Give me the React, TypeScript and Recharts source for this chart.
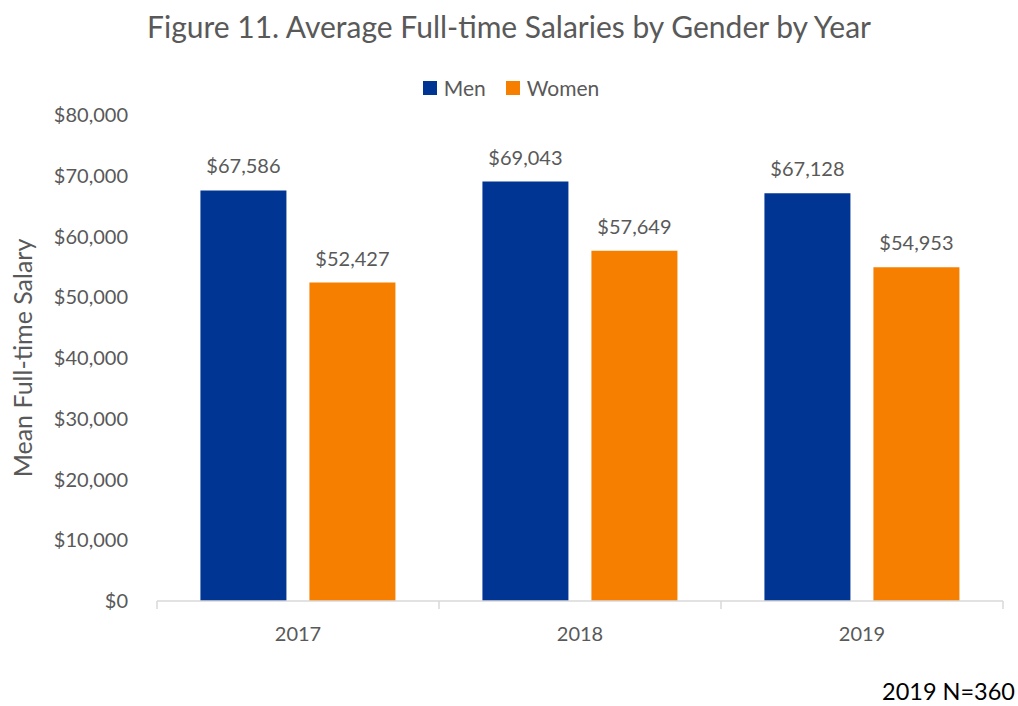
import React from "react";
import { BarChart, Bar, XAxis, YAxis, LabelList } from "recharts";

const years = ["2017", "2018", "2019"];
const men = [67586, 69043, 67128];
const women = [52427, 57649, 54953];
const yTicks = [0, 10000, 20000, 30000, 40000, 50000, 60000, 70000, 80000];

const data = years.map((year, i) => ({ year, men: men[i], women: women[i] }));

const W = 1018;
const H = 706;
const PLOT_LEFT = 157;
const PLOT_RIGHT = 15;
const STEP = (W - PLOT_LEFT - PLOT_RIGHT) / years.length;

const FONT = "Lato, 'Noto Sans', sans-serif";
const TEXT = "#595959";
const AXIS = "#d9d9d9";

const money = (v: number) => "$" + v.toLocaleString("en-US");

function YearTick(props: any) {
  const { x, y, payload, index } = props;
  const left = x - STEP / 2;
  return (
    <g>
      <line x1={left} y1={y - 8} x2={left} y2={y} stroke={AXIS} strokeWidth={1.5} />
      {index === years.length - 1 && (
        <line x1={left + STEP} y1={y - 8} x2={left + STEP} y2={y} stroke={AXIS} strokeWidth={1.5} />
      )}
      <text x={x} y={y + 32} textAnchor="middle" fill={TEXT} fontSize={20} fontFamily={FONT}>
        {payload.value}
      </text>
    </g>
  );
}

export default function App() {
  return (
    <div style={{ position: "absolute", left: 0, top: 0, width: W, height: H, background: "#fff", fontFamily: FONT }}>
      <div style={{ position: "absolute", left: 0, width: W, top: 8, textAlign: "center", fontSize: 30, color: TEXT }}>
        Figure 11. Average Full-time Salaries by Gender by Year
      </div>
      <div style={{ position: "absolute", left: 0, width: W, top: 75, display: "flex", justifyContent: "center", fontSize: 21, color: TEXT, paddingLeft: 2 }}>
        <span style={{ display: "flex", alignItems: "center", marginRight: 20 }}>
          <span style={{ width: 14, height: 14, background: "#003594", marginRight: 7 }} />Men
        </span>
        <span style={{ display: "flex", alignItems: "center" }}>
          <span style={{ width: 14, height: 14, background: "#f77f00", marginRight: 7 }} />Women
        </span>
      </div>
      <div
        style={{
          position: "absolute",
          left: 22,
          top: 358,
          transform: "translate(-50%, -50%) rotate(-90deg)",
          fontSize: 25,
          color: TEXT,
          whiteSpace: "nowrap",
        }}
      >
        Mean Full-time Salary
      </div>
      <div style={{ position: "absolute", right: 3, top: 677, fontSize: 23.5, color: "#000" }}>2019 N=360</div>
      <BarChart
        width={W}
        height={H}
        data={data}
        margin={{ top: 115, right: PLOT_RIGHT, bottom: 45, left: 0 }}
        barCategoryGap="15.4%"
        barGap={23}
        style={{ position: "absolute", left: 0, top: 0 }}
      >
        <XAxis
          dataKey="year"
          height={60}
          axisLine={{ stroke: AXIS, strokeWidth: 1.5 }}
          tickLine={false}
          tick={<YearTick />}
        />
        <YAxis
          width={PLOT_LEFT}
          domain={[0, 80000]}
          ticks={yTicks}
          axisLine={false}
          tickLine={false}
          tickSize={0}
          tickMargin={29}
          tickFormatter={money}
          tick={{ fontSize: 20, fill: TEXT, fontFamily: FONT }}
        />
        <Bar dataKey="men" fill="#003594" isAnimationActive={false}>
          <LabelList dataKey="men" position="top" offset={17} formatter={money as any} fill={TEXT} fontSize={20} fontFamily={FONT} />
        </Bar>
        <Bar dataKey="women" fill="#f77f00" isAnimationActive={false}>
          <LabelList dataKey="women" position="top" offset={17} formatter={money as any} fill={TEXT} fontSize={20} fontFamily={FONT} />
        </Bar>
      </BarChart>
    </div>
  );
}
